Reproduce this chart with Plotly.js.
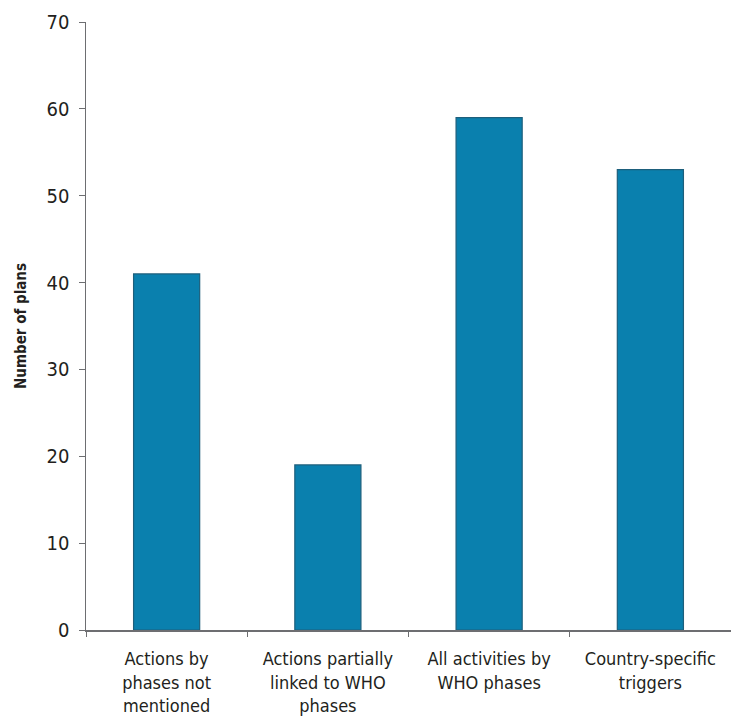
<!DOCTYPE html>
<html>
<head>
<meta charset="utf-8">
<script src="https://cdn.plot.ly/plotly-3.0.1.min.js"></script>
<style>html,body{margin:0;padding:0;background:#fff;}#chart{width:731px;height:724px;}</style>
</head>
<body>
<div id="chart"></div>
<script>
const categories = [
  "Actions by<br>phases not<br>mentioned",
  "Actions partially<br>linked to WHO<br>phases",
  "All activities by<br>WHO phases",
  "Country-specific<br>triggers"
];
const planCounts = [41, 19, 59, 53];
const yTickValues = [0, 10, 20, 30, 40, 50, 60, 70];

const FONT = "'DejaVu Sans Condensed', 'Liberation Sans Narrow', sans-serif";

Plotly.newPlot('chart', [{
  type: 'bar',
  x: categories,
  y: planCounts,
  marker: {color: '#0a80ae', line: {color: '#1d5f7c', width: 1.2}},
  hoverinfo: 'x+y'
}], {
  width: 731, height: 724,
  margin: {l: 86, r: 0, t: 22, b: 94},
  paper_bgcolor: '#fff', plot_bgcolor: '#fff',
  bargap: 0.59,
  showlegend: false,
  font: {family: FONT, color: '#231f20', size: 18},
  xaxis: {
    type: 'category',
    showline: true, linecolor: '#6d6e71', linewidth: 1.5,
    ticks: 'outside', tickson: 'boundaries', ticklen: 5, tickcolor: '#6d6e71',
    showgrid: false, zeroline: false,
    tickfont: {family: FONT, size: 18, color: '#231f20'},
    ticklabelstandoff: 12
  },
  yaxis: {
    range: [0, 70], tickvals: yTickValues,
    showline: true, linecolor: '#6d6e71', linewidth: 1.5,
    ticks: 'outside', ticklen: 6, tickcolor: '#6d6e71',
    showgrid: false, zeroline: false,
    tickfont: {family: FONT, size: 20, color: '#231f20'},
    ticklabelstandoff: 5,
    title: {text: '<b>Number of plans</b>', font: {family: FONT, size: 15, color: '#231f20'}, standoff: 16}
  }
}, {displayModeBar: false, staticPlot: true});
</script>
</body>
</html>
